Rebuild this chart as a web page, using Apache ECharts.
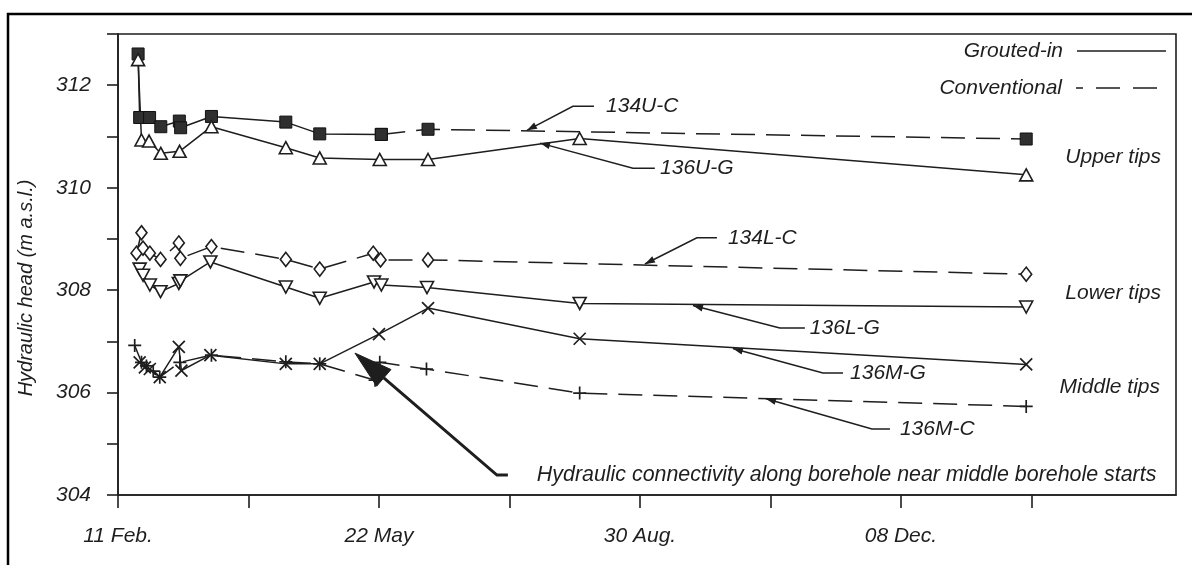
<!DOCTYPE html>
<html>
<head>
<meta charset="utf-8">
<script src="https://cdn.jsdelivr.net/npm/echarts@6/dist/echarts.min.js"></script>
<style>
html,body{margin:0;padding:0;background:#fff;}
#chart{width:1192px;height:565px;}
</style>
</head>
<body>
<div id="chart"></div>
<script>
// ---- data (x = days after 11 Feb, y = hydraulic head, m a.s.l.) ----
const xTickDays = [0, 50, 100, 150, 200, 250, 300, 350];
const xLabelDays = [0, 100, 200, 300];
const xLabelTexts = ['11 Feb.', '22 May', '30 Aug.', '08 Dec.'];

const days134UC = [7.7, 8.3, 12.1, 16.4, 23.5, 24.0, 35.8, 64.3, 77.3, 100.9, 118.8, 348];
const vals134UC = [312.61, 311.37, 311.37, 311.19, 311.30, 311.17, 311.39, 311.28, 311.05, 311.04, 311.14, 310.95];

const days136UG = [7.7, 9.0, 11.9, 16.4, 23.6, 35.8, 64.3, 77.3, 100.3, 118.8, 176.9, 348];
const vals136UG = [312.5, 310.93, 310.91, 310.67, 310.71, 311.19, 310.78, 310.58, 310.55, 310.55, 310.96, 310.25];

const days134LC = [7.1, 9.0, 9.6, 12.2, 16.3, 23.3, 23.9, 35.8, 64.3, 77.3, 97.8, 100.6, 118.8, 348];
const vals134LC = [308.72, 309.12, 308.82, 308.72, 308.60, 308.92, 308.62, 308.85, 308.60, 308.41, 308.72, 308.59, 308.59, 308.31];

const days136LG = [8.3, 9.6, 12.2, 16.3, 23.3, 23.9, 35.4, 64.3, 77.3, 98.1, 100.9, 118.4, 176.9, 348];
const vals136LG = [308.41, 308.29, 308.10, 307.97, 308.13, 308.18, 308.55, 308.06, 307.84, 308.16, 308.10, 308.05, 307.74, 307.67];

const days136MG = [8.3, 10.3, 12.2, 16.0, 23.3, 24.3, 35.4, 64.3, 77.3, 100.0, 118.8, 176.9, 348];
const vals136MG = [306.59, 306.49, 306.46, 306.30, 306.89, 306.43, 306.73, 306.56, 306.56, 307.14, 307.65, 307.05, 306.55];

const days136MC = [6.4, 9.0, 10.9, 13.5, 16.0, 23.7, 35.8, 64.3, 77.3, 98.5, 100.3, 118.2, 176.9, 348];
const vals136MC = [306.92, 306.59, 306.52, 306.42, 306.30, 306.59, 306.73, 306.60, 306.56, 306.24, 306.59, 306.46, 305.99, 305.73];

// annotation anchors in data coordinates [day, head]
const notes = [
  {text: '134U-C', tip: [156.7, 311.12], elbow: [174.3, 311.59], end: [182.4, 311.59], at: [187.0, 311.59]},
  {text: '136U-G', tip: [161.7, 310.87], elbow: [197.3, 310.38], end: [205.7, 310.38], at: [207.7, 310.38]},
  {text: '134L-C', tip: [201.9, 308.51], elbow: [221.8, 309.02], end: [229.5, 309.02], at: [233.7, 309.02]},
  {text: '136L-G', tip: [220.3, 307.70], elbow: [253.6, 307.26], end: [263.2, 307.26], at: [265.1, 307.26]},
  {text: '136M-G', tip: [235.6, 306.86], elbow: [270.1, 306.38], end: [277.8, 306.38], at: [280.5, 306.38]},
  {text: '136M-C', tip: [248.3, 305.88], elbow: [288.9, 305.29], end: [295.8, 305.29], at: [299.6, 305.29]}
];
const bigNote = {text: 'Hydraulic connectivity along borehole near middle borehole starts',
  tip: [90.8, 306.77], elbow: [145.2, 304.39], end: [149.4, 304.39], at: [160.5, 304.39]};

const INK = '#1e1e1e';
const FONT = 'italic 21px "Liberation Sans", Arial, Helvetica, sans-serif';

function pairs(d, v) { return d.map((x, i) => [x, v[i]]); }

const chart = echarts.init(document.getElementById('chart'), null, {renderer: 'canvas'});

const lineBase = {type: 'line', showSymbol: true, animation: false, z: 3,
  lineStyle: {color: INK, width: 1.5}};
const hollow = {color: '#fff', borderColor: INK, borderWidth: 1.6};
const dash = [24, 11];

const series = [
  Object.assign({}, lineBase, {name: '134U-C', data: pairs(days134UC, vals134UC).slice(0, 10),
    symbol: 'rect', symbolSize: 12, itemStyle: {color: '#2f2f2f', borderColor: '#111', borderWidth: 1}}),
  Object.assign({}, lineBase, {name: '134U-C', data: pairs(days134UC, vals134UC).slice(9),
    symbol: 'rect', symbolSize: 12, itemStyle: {color: '#2f2f2f', borderColor: '#111', borderWidth: 1},
    lineStyle: {color: INK, width: 1.5, type: dash}}),
  Object.assign({}, lineBase, {name: '136U-G', data: pairs(days136UG, vals136UG),
    symbol: 'triangle', symbolSize: [13, 12], itemStyle: hollow}),
  Object.assign({}, lineBase, {name: '134L-C', data: pairs(days134LC, vals134LC),
    symbol: 'diamond', symbolSize: [11, 14], itemStyle: hollow,
    lineStyle: {color: INK, width: 1.5, type: dash}}),
  Object.assign({}, lineBase, {name: '136L-G', data: pairs(days136LG, vals136LG),
    symbol: 'triangle', symbolRotate: 180, symbolSize: [13, 12], itemStyle: hollow}),
  Object.assign({}, lineBase, {name: '136M-G', data: pairs(days136MG, vals136MG),
    symbol: 'path://M0,0L10,10M10,0L0,10', symbolSize: 12,
    itemStyle: {color: INK, borderColor: INK, borderWidth: 1.7}}),
  Object.assign({}, lineBase, {name: '136M-C', data: pairs(days136MC, vals136MC),
    symbol: 'path://M5,0L5,10M0,5L10,5', symbolSize: 13,
    itemStyle: {color: INK, borderColor: INK, borderWidth: 1.7},
    lineStyle: {color: INK, width: 1.5, type: dash}})
];

chart.setOption({
  animation: false,
  backgroundColor: '#fff',
  grid: {left: 118, right: 16, top: 34, bottom: 70, show: true, borderColor: INK, borderWidth: 1.6, backgroundColor: 'transparent'},
  xAxis: {
    type: 'value', min: 0, max: 405.4,
    axisLine: {show: true, onZero: false, lineStyle: {color: INK, width: 1.6}},
    axisTick: {show: true, inside: false, length: 13, customValues: xTickDays, lineStyle: {color: INK, width: 1.6}},
    axisLabel: {show: true, customValues: xLabelDays, margin: 31,
      formatter: v => { const i = xLabelDays.indexOf(v); return i >= 0 ? xLabelTexts[i] : ''; },
      color: INK, fontSize: 21, fontStyle: 'italic', fontFamily: '"Liberation Sans", Arial, sans-serif'},
    splitLine: {show: false}
  },
  yAxis: {
    type: 'value', min: 304, max: 313, interval: 1,
    axisLine: {show: true, onZero: false, lineStyle: {color: INK, width: 1.6}},
    axisTick: {show: true, inside: false, length: 11, lineStyle: {color: INK, width: 1.6}},
    axisLabel: {show: true, margin: 27, formatter: v => (v % 2 === 0 ? String(v) : ''),
      color: INK, fontSize: 21, fontStyle: 'italic', fontFamily: '"Liberation Sans", Arial, sans-serif'},
    splitLine: {show: false}
  },
  series: series
});

function px(p) { return chart.convertToPixel({gridIndex: 0}, p); }
function txt(text, x, y, align, font) {
  return {type: 'text', z: 20, style: {text: text, x: x, y: y, font: font || FONT, fill: INK,
    align: align, textAlign: align, verticalAlign: 'middle', textVerticalAlign: 'middle'}};
}
function head(tip, from, len, hw) {
  const dx = tip[0] - from[0], dy = tip[1] - from[1];
  const L = Math.hypot(dx, dy); const ux = dx / L, uy = dy / L;
  const bx = tip[0] - ux * len, by = tip[1] - uy * len;
  return [[tip[0], tip[1]], [bx - uy * hw, by + ux * hw], [bx + uy * hw, by - ux * hw]];
}

const g = [];
// outer border
g.push({type: 'rect', z: 30, shape: {x: 8, y: 14, width: 1300, height: 700}, style: {fill: 'none', stroke: '#000', lineWidth: 2.5}});
// y-axis name
g.push({type: 'text', z: 20, x: 26, y: 288, rotation: Math.PI / 2,
  style: {text: 'Hydraulic head (m a.s.l.)', x: 0, y: 0, font: 'italic 20px "Liberation Sans", Arial, sans-serif', fill: INK,
    align: 'center', textAlign: 'center', verticalAlign: 'middle', textVerticalAlign: 'middle'}});
// legend
g.push(txt('Grouted-in', 1063, 51, 'right'));
g.push({type: 'line', z: 20, shape: {x1: 1077, y1: 51, x2: 1166, y2: 51}, style: {stroke: INK, lineWidth: 1.6}});
g.push(txt('Conventional', 1062, 88, 'right'));
g.push({type: 'line', z: 20, shape: {x1: 1076, y1: 88, x2: 1160, y2: 88}, style: {stroke: INK, lineWidth: 1.6, lineDash: [24, 13], lineDashOffset: 17}});
// group labels
g.push(txt('Upper tips', 1161, 157, 'right'));
g.push(txt('Lower tips', 1161, 293, 'right'));
g.push(txt('Middle tips', 1160, 387, 'right'));
// leader annotations
notes.forEach(n => {
  const t = px(n.tip), e = px(n.elbow), d = px(n.end), a = px(n.at);
  g.push({type: 'polyline', z: 20, shape: {points: [d, e, t]}, style: {fill: 'none', stroke: INK, lineWidth: 1.5}});
  g.push({type: 'polygon', z: 21, shape: {points: head(t, e, 10, 3.5)}, style: {fill: INK}});
  g.push(txt(n.text, a[0], a[1], 'left'));
});
// big arrow
{
  const t = px(bigNote.tip), e = px(bigNote.elbow), d = px(bigNote.end), a = px(bigNote.at);
  const h = head(t, e, 38, 11);
  const base = [(h[1][0] + h[2][0]) / 2, (h[1][1] + h[2][1]) / 2];
  g.push({type: 'polyline', z: 20, shape: {points: [d, e, base]}, style: {fill: 'none', stroke: INK, lineWidth: 3}});
  g.push({type: 'polygon', z: 21, shape: {points: h}, style: {fill: INK, stroke: INK, lineWidth: 1}});
  g.push(txt(bigNote.text, a[0], a[1], 'left', 'italic 21.4px "Liberation Sans", Arial, Helvetica, sans-serif'));
}
chart.setOption({graphic: {elements: g}});
</script>
</body>
</html>
